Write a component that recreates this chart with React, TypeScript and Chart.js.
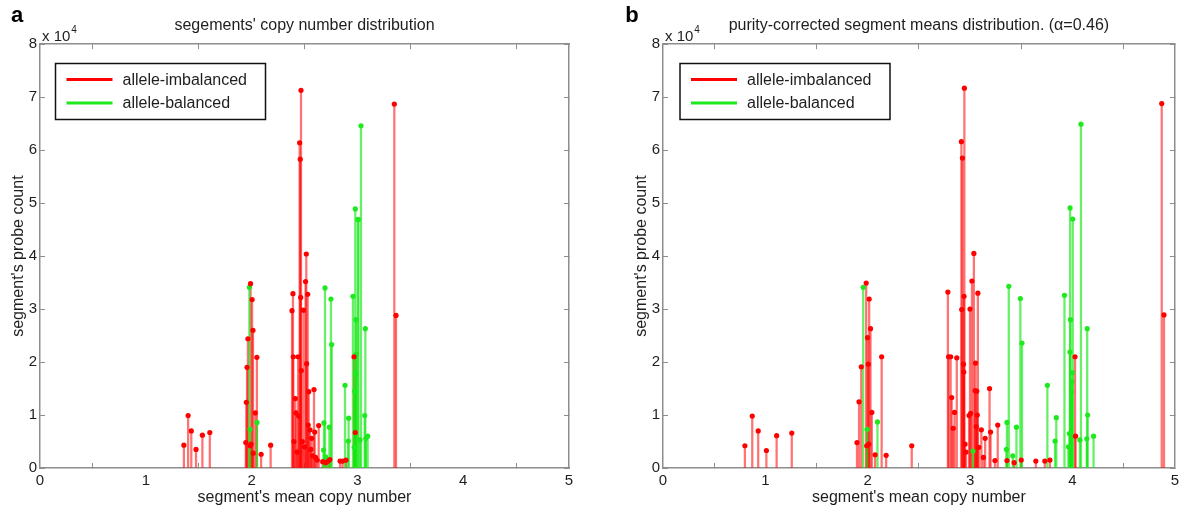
import { useEffect, useRef } from 'react';
import { Chart, registerables } from 'chart.js';

Chart.register(...registerables);

// ---------- data: [mean copy number, probe count] ----------
const panelAImbalanced: [number, number][] = [
  [1.36, 4300], [1.40, 9900], [1.43, 7000], [1.475, 3500], [1.535, 6200], [1.605, 6700],
  [1.945, 4800], [1.95, 12400], [1.957, 19000], [1.965, 24400], [1.985, 4200], [1.99, 34800],
  [1.995, 4500], [2.005, 31800], [2.013, 26000], [2.015, 2800], [2.035, 10400], [2.05, 20900],
  [2.09, 2600], [2.18, 4300],
  [2.382, 29700], [2.391, 32900], [2.394, 21000], [2.40, 5000], [2.413, 13100], [2.42, 10400],
  [2.43, 3000], [2.44, 21000], [2.445, 9800], [2.454, 61400], [2.46, 58300], [2.464, 32200],
  [2.467, 71300], [2.47, 18400], [2.48, 5000], [2.49, 29800], [2.50, 4000], [2.51, 35200],
  [2.517, 40400], [2.52, 19700], [2.53, 32800], [2.535, 8100], [2.54, 14400], [2.552, 7200],
  [2.56, 3500], [2.568, 5600], [2.575, 2300], [2.59, 14800], [2.596, 6800], [2.605, 2000],
  [2.62, 1500], [2.634, 8000],
  [2.672, 1200], [2.70, 1000], [2.725, 1300], [2.74, 1600], [2.836, 1300], [2.86, 1300],
  [2.892, 1500], [2.968, 21000], [2.98, 6700], [3.349, 68700], [3.365, 28800],
];

const panelABalanced: [number, number][] = [
  [1.979, 34100], [1.985, 7300], [2.051, 8600],
  [2.68, 3400], [2.684, 8500], [2.694, 34000], [2.70, 2100], [2.72, 1500], [2.735, 7700],
  [2.75, 31900], [2.757, 23300], [2.883, 15600], [2.914, 5100], [2.917, 9400], [2.958, 32400],
  [2.97, 3900], [2.975, 14500], [2.98, 48900], [2.985, 17900], [2.987, 28000], [2.99, 21500],
  [3.003, 46900], [3.01, 46900], [3.025, 5300], [3.034, 64600], [3.069, 9900], [3.075, 26300],
  [3.08, 5600], [3.097, 6000],
];

const panelBImbalanced: [number, number][] = [
  [0.80, 4200], [0.872, 9800], [0.93, 7000], [1.01, 3300], [1.11, 6100], [1.258, 6600],
  [1.895, 4800], [1.915, 12500], [1.937, 19100], [1.985, 34900], [1.99, 4200], [1.998, 24600],
  [2.005, 19600], [2.01, 4500], [2.014, 31900], [2.027, 26300], [2.04, 10500], [2.072, 2500],
  [2.136, 21000], [2.18, 2400], [2.43, 4200],
  [2.783, 33200], [2.79, 21000], [2.81, 21000], [2.82, 13300], [2.835, 7500], [2.848, 10500],
  [2.87, 20800], [2.915, 61600], [2.918, 29900], [2.925, 58500], [2.935, 19600], [2.938, 18100],
  [2.941, 32400], [2.944, 71700], [2.95, 4500], [2.96, 3000], [2.99, 9900], [2.999, 30000],
  [3.005, 10300], [3.018, 35300], [3.037, 40500], [3.05, 14600], [3.053, 19800], [3.06, 7800],
  [3.065, 14500], [3.07, 10000], [3.076, 33000], [3.085, 3900], [3.11, 7200], [3.13, 2000],
  [3.147, 5600], [3.19, 15000], [3.2, 6800], [3.243, 1400], [3.27, 8100],
  [3.36, 1400], [3.43, 1000], [3.5, 1500], [3.642, 1300], [3.73, 1300], [3.78, 1500],
  [4.025, 21000], [4.03, 6000], [4.872, 68800], [4.894, 28900],
];

const panelBBalanced: [number, number][] = [
  [1.956, 34100], [1.995, 7300], [2.095, 8700], [3.028, 3200],
  [3.355, 3500], [3.36, 8600], [3.378, 34300], [3.417, 2300], [3.453, 7700], [3.491, 32000],
  [3.507, 23600], [3.755, 15600], [3.83, 5100], [3.842, 9500], [3.922, 32600], [3.96, 4000],
  [3.97, 6500], [3.975, 21900], [3.977, 49100], [3.98, 28000], [3.99, 14400], [3.995, 16300],
  [4.0, 18000], [4.003, 47000], [4.073, 5300], [4.083, 64900], [4.14, 5500], [4.144, 26300],
  [4.148, 10000], [4.206, 6000],
];

const xTickValues = [0, 1, 2, 3, 4, 5];
const yTickValues = [0, 10000, 20000, 30000, 40000, 50000, 60000, 70000, 80000];
const seriesLabels = ['allele-imbalanced', 'allele-balanced'];
const panelTitles = [
  "segements' copy number distribution",
  'purity-corrected segment means distribution. (\u03B1=0.46)',
];
const xAxisTitle = "segment's mean copy number";
const yAxisTitle = "segment's probe count";
const panelLetters = ['a', 'b'];

// ---------- styling ----------
const FONT = "'Liberation Sans', Arial, Helvetica, sans-serif";
const AXIS = '#8e8e8e';
const TEXT = '#1e1e1e';
const RED = '#ff0000';
const RED_STEM = 'rgba(255,0,0,0.55)';
const GREEN = '#1ee81e';
const GREEN_STEM = 'rgba(20,232,20,0.65)';

Chart.defaults.font.family = FONT;

const decorPlugin = {
  id: 'decor',
  afterDraw(chart: any, _args: any, opts: any) {
    const { ctx, chartArea } = chart;
    ctx.save();
    // panel letter
    ctx.font = `bold 22px ${FONT}`;
    ctx.fillStyle = '#000';
    ctx.textAlign = 'center';
    ctx.textBaseline = 'middle';
    ctx.fillText(opts.letter, opts.letterX, opts.letterY);
    // exponent
    ctx.fillStyle = TEXT;
    ctx.textAlign = 'left';
    ctx.textBaseline = 'alphabetic';
    ctx.font = `15px ${FONT}`;
    const ex = chartArea.left + 2;
    ctx.fillText('x 10', ex, chartArea.top - 3);
    const w = ctx.measureText('x 10').width;
    ctx.font = `10px ${FONT}`;
    ctx.fillText('4', ex + w + 1, chartArea.top - 11);
    // legend
    const lg = opts.legend;
    ctx.fillStyle = '#fff';
    ctx.fillRect(lg.x, lg.y, lg.w, lg.h);
    ctx.strokeStyle = '#111';
    ctx.lineWidth = 1.5;
    ctx.strokeRect(lg.x, lg.y, lg.w, lg.h);
    lg.items.forEach((it: any, i: number) => {
      const y = lg.y + 16 + i * 23.4;
      ctx.strokeStyle = it.color;
      ctx.lineWidth = 3;
      ctx.beginPath();
      ctx.moveTo(lg.x + 11, y);
      ctx.lineTo(lg.x + 57, y);
      ctx.stroke();
      ctx.fillStyle = TEXT;
      ctx.font = `16px ${FONT}`;
      ctx.textBaseline = 'middle';
      ctx.fillText(it.label, lg.x + 67, y + 1);
    });
    ctx.restore();
  },
};

function makeConfig(panel: number) {
  const red = panel === 0 ? panelAImbalanced : panelBImbalanced;
  const green = panel === 0 ? panelABalanced : panelBBalanced;
  const toXY = (arr: [number, number][]) => arr.map(([x, y]) => ({ x, y }));
  const barDs = (arr: [number, number][], color: string, label: string) => ({
    type: 'bar',
    label,
    data: toXY(arr),
    backgroundColor: color,
    borderWidth: 0,
    barThickness: 1.6,
    grouped: false,
  });
  const ptDs = (arr: [number, number][], color: string, label: string) => ({
    type: 'scatter',
    label,
    data: toXY(arr),
    pointRadius: 2.6,
    pointHoverRadius: 2.6,
    pointBackgroundColor: color,
    pointBorderWidth: 0,
    showLine: false,
  });
  const tickFont = { size: 15 };
  const box = (pos: string) => ({
    display: true,
    position: pos,
    type: 'linear',
    min: pos === 'top' || pos === 'bottom' ? xTickValues[0] : yTickValues[0],
    max: pos === 'top' || pos === 'bottom' ? xTickValues[xTickValues.length - 1] : yTickValues[yTickValues.length - 1],
    offset: false,
    ticks: { display: false, stepSize: pos === 'top' ? 1 : 10000 },
    grid: { drawOnChartArea: false, drawTicks: true, tickLength: -5, color: AXIS, lineWidth: 1 },
    border: { display: true, color: AXIS, width: 1.5 },
    afterFit: (s: any) => {
      if (pos === 'top') s.height = 0;
      else s.width = 0;
    },
  });
  return {
    type: 'bar',
    data: {
      datasets: [
        ptDs(red, RED, seriesLabels[0]),
        ptDs(green, GREEN, seriesLabels[1]),
        barDs(green, GREEN_STEM, seriesLabels[1]),
        barDs(red, RED_STEM, seriesLabels[0]),
      ],
    },
    plugins: [decorPlugin],
    options: {
      responsive: false,
      animation: false,
      events: [],
      layout: { padding: panel === 0 ? { left: 0, right: 25, top: 0, bottom: 0 } : { left: 29, right: 7, top: 0, bottom: 0 } },
      scales: {
        x: {
          type: 'linear',
          position: 'bottom',
          min: xTickValues[0],
          max: xTickValues[xTickValues.length - 1],
          offset: false,
          afterBuildTicks: (s: any) => { s.ticks = xTickValues.map((v) => ({ value: v })); },
          ticks: { color: TEXT, font: tickFont, padding: 9, maxRotation: 0, autoSkip: false },
          grid: { drawOnChartArea: false, drawTicks: true, tickLength: -5, color: AXIS, lineWidth: 1 },
          border: { display: true, color: AXIS, width: 1.5 },
          title: { display: true, text: xAxisTitle, color: TEXT, font: { size: 16 }, padding: { top: 0, bottom: 3 } },
          afterFit: (s: any) => { s.height = 42; },
        },
        y: {
          type: 'linear',
          position: 'left',
          min: yTickValues[0],
          max: yTickValues[yTickValues.length - 1],
          afterBuildTicks: (s: any) => { s.ticks = yTickValues.map((v) => ({ value: v })); },
          ticks: { color: TEXT, font: tickFont, padding: 8, callback: (v: any) => String(Number(v) / 10000) },
          grid: { drawOnChartArea: false, drawTicks: true, tickLength: -5, color: AXIS, lineWidth: 1 },
          border: { display: true, color: AXIS, width: 1.5 },
          title: { display: true, text: yAxisTitle, color: TEXT, font: { size: 16 }, padding: { top: 9, bottom: 0 } },
          afterFit: (s: any) => { s.width = 40; },
        },
        x2: {
          ...box('top'),
          afterBuildTicks: (s: any) => { s.ticks = xTickValues.map((v) => ({ value: v })); },
        },
        y2: {
          ...box('right'),
          afterBuildTicks: (s: any) => { s.ticks = yTickValues.map((v) => ({ value: v })); },
        },
      },
      plugins: {
        legend: { display: false },
        tooltip: { enabled: false },
        title: {
          display: true,
          text: panelTitles[panel],
          color: TEXT,
          font: { size: 16, weight: 'normal' },
          fullSize: false,
          padding: { top: 16.4, bottom: 8.6 },
        },
        decor: {
          letter: panelLetters[panel],
          letterX: panel === 0 ? 17 : 38,
          letterY: 16,
          legend: {
            x: panel === 0 ? 55.5 : 86,
            y: 63.5,
            w: 210,
            h: 56,
            items: [
              { label: seriesLabels[0], color: RED },
              { label: seriesLabels[1], color: GREEN },
            ],
          },
        },
      },
    },
  };
}

function Panel({ panel, left }: { panel: number; left: number }) {
  const ref = useRef<HTMLCanvasElement | null>(null);
  useEffect(() => {
    if (!ref.current) return;
    const chart = new Chart(ref.current, makeConfig(panel) as any);
    return () => chart.destroy();
  }, [panel]);
  return (
    <canvas
      ref={ref}
      width={594}
      height={510}
      style={{ position: 'absolute', left, top: 0, width: 594, height: 510 }}
    />
  );
}

export default function App() {
  return (
    <div style={{ position: 'fixed', left: 0, top: 0, width: 1188, height: 510, background: '#fff' }}>
      <Panel panel={0} left={0} />
      <Panel panel={1} left={594} />
    </div>
  );
}
